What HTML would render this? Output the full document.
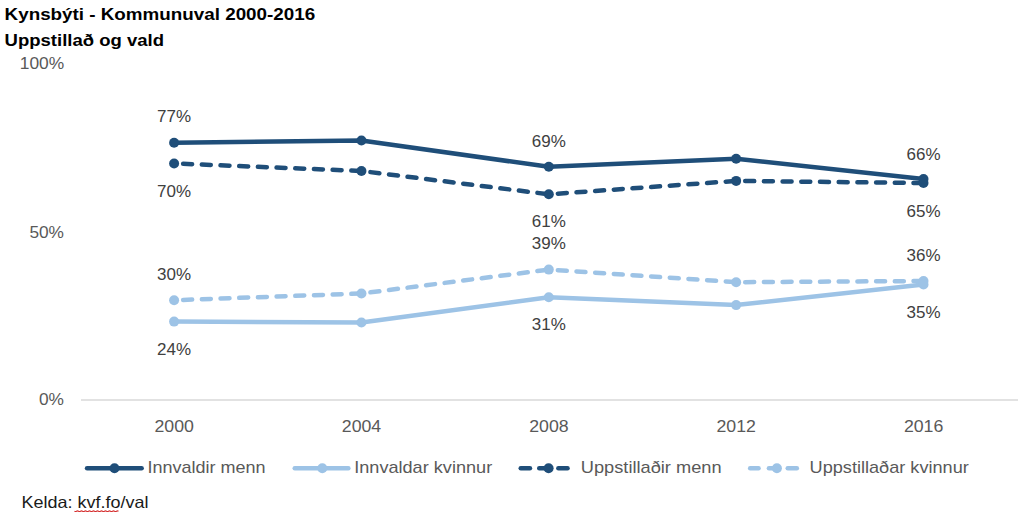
<!DOCTYPE html>
<html><head><meta charset="utf-8"><style>
html,body{margin:0;padding:0;background:#fff;}
svg{display:block;font-family:"Liberation Sans",sans-serif;}
</style></head><body>
<svg width="1024" height="528" viewBox="0 0 1024 528">
<rect width="1024" height="528" fill="#fff"/>
<line x1="81" y1="400" x2="1018" y2="400" stroke="#d9d9d9" stroke-width="1.5"/>
<path d="M174.10,300.20 L361.45,293.50" fill="none" stroke="#9dc3e6" stroke-width="4.5" stroke-linecap="round" stroke-dasharray="9 9.7" stroke-dashoffset="9.65"/>
<path d="M361.45,293.50 L548.80,269.60" fill="none" stroke="#9dc3e6" stroke-width="4.5" stroke-linecap="round" stroke-dasharray="9 9.7" stroke-dashoffset="9.65"/>
<path d="M548.80,269.60 L736.15,282.20" fill="none" stroke="#9dc3e6" stroke-width="4.5" stroke-linecap="round" stroke-dasharray="9 9.7" stroke-dashoffset="9.65"/>
<path d="M736.15,282.20 L923.50,281.00" fill="none" stroke="#9dc3e6" stroke-width="4.5" stroke-linecap="round" stroke-dasharray="9 9.7" stroke-dashoffset="9.65"/>
<circle cx="174.10" cy="300.20" r="5.0" fill="#9dc3e6"/>
<circle cx="361.45" cy="293.50" r="5.0" fill="#9dc3e6"/>
<circle cx="548.80" cy="269.60" r="5.0" fill="#9dc3e6"/>
<circle cx="736.15" cy="282.20" r="5.0" fill="#9dc3e6"/>
<circle cx="923.50" cy="281.00" r="5.0" fill="#9dc3e6"/>

<polyline points="174.10,321.60 361.45,322.50 548.80,297.20 736.15,305.10 923.50,284.50" fill="none" stroke="#9dc3e6" stroke-width="4.5" stroke-linecap="round" stroke-linejoin="round"/>
<circle cx="174.10" cy="321.60" r="5.0" fill="#9dc3e6"/>
<circle cx="361.45" cy="322.50" r="5.0" fill="#9dc3e6"/>
<circle cx="548.80" cy="297.20" r="5.0" fill="#9dc3e6"/>
<circle cx="736.15" cy="305.10" r="5.0" fill="#9dc3e6"/>
<circle cx="923.50" cy="284.50" r="5.0" fill="#9dc3e6"/>

<path d="M174.10,163.50 L361.45,171.00" fill="none" stroke="#1f4e79" stroke-width="4.5" stroke-linecap="round" stroke-dasharray="9 9.7" stroke-dashoffset="9.65"/>
<path d="M361.45,171.00 L548.80,194.30" fill="none" stroke="#1f4e79" stroke-width="4.5" stroke-linecap="round" stroke-dasharray="9 9.7" stroke-dashoffset="9.65"/>
<path d="M548.80,194.30 L736.15,180.90" fill="none" stroke="#1f4e79" stroke-width="4.5" stroke-linecap="round" stroke-dasharray="9 9.7" stroke-dashoffset="9.65"/>
<path d="M736.15,180.90 L923.50,183.00" fill="none" stroke="#1f4e79" stroke-width="4.5" stroke-linecap="round" stroke-dasharray="9 9.7" stroke-dashoffset="9.65"/>
<circle cx="174.10" cy="163.50" r="5.0" fill="#1f4e79"/>
<circle cx="361.45" cy="171.00" r="5.0" fill="#1f4e79"/>
<circle cx="548.80" cy="194.30" r="5.0" fill="#1f4e79"/>
<circle cx="736.15" cy="180.90" r="5.0" fill="#1f4e79"/>
<circle cx="923.50" cy="183.00" r="5.0" fill="#1f4e79"/>

<polyline points="174.10,142.70 361.45,140.50 548.80,166.80 736.15,158.80 923.50,179.00" fill="none" stroke="#1f4e79" stroke-width="4.5" stroke-linecap="round" stroke-linejoin="round"/>
<circle cx="174.10" cy="142.70" r="5.0" fill="#1f4e79"/>
<circle cx="361.45" cy="140.50" r="5.0" fill="#1f4e79"/>
<circle cx="548.80" cy="166.80" r="5.0" fill="#1f4e79"/>
<circle cx="736.15" cy="158.80" r="5.0" fill="#1f4e79"/>
<circle cx="923.50" cy="179.00" r="5.0" fill="#1f4e79"/>

<line x1="87.05" y1="468.3" x2="141.65" y2="468.3" stroke="#1f4e79" stroke-width="4.5" stroke-linecap="round"/>
<circle cx="114.5" cy="468.3" r="5.0" fill="#1f4e79"/>

<line x1="294.75" y1="468.3" x2="348.35" y2="468.3" stroke="#9dc3e6" stroke-width="4.5" stroke-linecap="round"/>
<circle cx="322.3" cy="468.3" r="5.0" fill="#9dc3e6"/>

<line x1="520.75" y1="468.3" x2="529.95" y2="468.3" stroke="#1f4e79" stroke-width="4.5" stroke-linecap="round"/>
<line x1="539.25" y1="468.3" x2="548.45" y2="468.3" stroke="#1f4e79" stroke-width="4.5" stroke-linecap="round"/>
<line x1="558.35" y1="468.3" x2="567.55" y2="468.3" stroke="#1f4e79" stroke-width="4.5" stroke-linecap="round"/>
<circle cx="548.6" cy="468.3" r="5.0" fill="#1f4e79"/>

<line x1="750.15" y1="468.3" x2="758.55" y2="468.3" stroke="#9dc3e6" stroke-width="4.5" stroke-linecap="round"/>
<line x1="768.95" y1="468.3" x2="778.15" y2="468.3" stroke="#9dc3e6" stroke-width="4.5" stroke-linecap="round"/>
<line x1="787.75" y1="468.3" x2="796.85" y2="468.3" stroke="#9dc3e6" stroke-width="4.5" stroke-linecap="round"/>
<circle cx="776.9" cy="468.3" r="5.0" fill="#9dc3e6"/>

<path d="M74.5,511.2 Q75.5,511.8 76.5,511.2 Q77.5,510.59999999999997 78.5,511.2 Q79.5,511.8 80.5,511.2 Q81.5,510.59999999999997 82.5,511.2 Q83.5,511.8 84.5,511.2 Q85.5,510.59999999999997 86.5,511.2 Q87.5,511.8 88.5,511.2 Q89.5,510.59999999999997 90.5,511.2 Q91.5,511.8 92.5,511.2 Q93.5,510.59999999999997 94.5,511.2 Q95.5,511.8 96.5,511.2 Q97.5,510.59999999999997 98.5,511.2 Q99.5,511.8 100.5,511.2 Q101.5,510.59999999999997 102.5,511.2 Q103.5,511.8 104.5,511.2 Q105.5,510.59999999999997 106.5,511.2 Q107.5,511.8 108.5,511.2 Q109.5,510.59999999999997 110.5,511.2 Q111.5,511.8 112.5,511.2 Q113.5,510.59999999999997 114.5,511.2 Q115.5,511.8 116.5,511.2 Q117.5,510.59999999999997 118.5,511.2" fill="none" stroke="#d42a2a" stroke-width="1.2"/>
<text x="19.8" y="69.0" font-size="17" font-weight="normal" fill="#595959" textLength="44.4" lengthAdjust="spacingAndGlyphs">100%</text>
<text x="29.4" y="237.6" font-size="17" font-weight="normal" fill="#595959" textLength="34.6" lengthAdjust="spacingAndGlyphs">50%</text>
<text x="39.0" y="405.4" font-size="17" font-weight="normal" fill="#595959" textLength="25.0" lengthAdjust="spacingAndGlyphs">0%</text>
<text x="154.5" y="431.5" font-size="17" font-weight="normal" fill="#595959" textLength="39.4" lengthAdjust="spacingAndGlyphs">2000</text>
<text x="341.8" y="431.5" font-size="17" font-weight="normal" fill="#595959" textLength="39.4" lengthAdjust="spacingAndGlyphs">2004</text>
<text x="529.2" y="431.5" font-size="17" font-weight="normal" fill="#595959" textLength="39.4" lengthAdjust="spacingAndGlyphs">2008</text>
<text x="716.5" y="431.5" font-size="17" font-weight="normal" fill="#595959" textLength="39.4" lengthAdjust="spacingAndGlyphs">2012</text>
<text x="903.9" y="431.5" font-size="17" font-weight="normal" fill="#595959" textLength="39.4" lengthAdjust="spacingAndGlyphs">2016</text>
<text x="157.1" y="122.4" font-size="17" font-weight="normal" fill="#404040" textLength="34.0" lengthAdjust="spacingAndGlyphs">77%</text>
<text x="157.1" y="196.7" font-size="17" font-weight="normal" fill="#404040" textLength="34.0" lengthAdjust="spacingAndGlyphs">70%</text>
<text x="531.8" y="147.4" font-size="17" font-weight="normal" fill="#404040" textLength="34.0" lengthAdjust="spacingAndGlyphs">69%</text>
<text x="531.8" y="227.3" font-size="17" font-weight="normal" fill="#404040" textLength="34.0" lengthAdjust="spacingAndGlyphs">61%</text>
<text x="531.8" y="249.0" font-size="17" font-weight="normal" fill="#404040" textLength="34.0" lengthAdjust="spacingAndGlyphs">39%</text>
<text x="531.8" y="330.2" font-size="17" font-weight="normal" fill="#404040" textLength="34.0" lengthAdjust="spacingAndGlyphs">31%</text>
<text x="157.1" y="279.9" font-size="17" font-weight="normal" fill="#404040" textLength="34.0" lengthAdjust="spacingAndGlyphs">30%</text>
<text x="157.1" y="354.6" font-size="17" font-weight="normal" fill="#404040" textLength="34.0" lengthAdjust="spacingAndGlyphs">24%</text>
<text x="906.5" y="159.6" font-size="17" font-weight="normal" fill="#404040" textLength="34.0" lengthAdjust="spacingAndGlyphs">66%</text>
<text x="906.5" y="216.7" font-size="17" font-weight="normal" fill="#404040" textLength="34.0" lengthAdjust="spacingAndGlyphs">65%</text>
<text x="906.5" y="260.6" font-size="17" font-weight="normal" fill="#404040" textLength="34.0" lengthAdjust="spacingAndGlyphs">36%</text>
<text x="906.5" y="317.7" font-size="17" font-weight="normal" fill="#404040" textLength="34.0" lengthAdjust="spacingAndGlyphs">35%</text>
<text x="4.6" y="20.3" font-size="16.8" font-weight="bold" fill="#000" textLength="310.6" lengthAdjust="spacingAndGlyphs">Kynsbýti - Kommunuval 2000-2016</text>
<text x="4.6" y="45.5" font-size="16.8" font-weight="bold" fill="#000" textLength="159.4" lengthAdjust="spacingAndGlyphs">Uppstillað og vald</text>
<text x="147.6" y="473.4" font-size="17" font-weight="normal" fill="#595959" textLength="118.0" lengthAdjust="spacingAndGlyphs">Innvaldir menn</text>
<text x="354.2" y="473.4" font-size="17" font-weight="normal" fill="#595959" textLength="138.0" lengthAdjust="spacingAndGlyphs">Innvaldar kvinnur</text>
<text x="580.8" y="473.4" font-size="17" font-weight="normal" fill="#595959" textLength="140.8" lengthAdjust="spacingAndGlyphs">Uppstillaðir menn</text>
<text x="809.6" y="473.4" font-size="17" font-weight="normal" fill="#595959" textLength="159.2" lengthAdjust="spacingAndGlyphs">Uppstillaðar kvinnur</text>
<text x="21.5" y="508.4" font-size="16.5" font-weight="normal" fill="#1a1a1a" textLength="126.9" lengthAdjust="spacingAndGlyphs">Kelda: kvf.fo/val</text>
</svg></body></html>
